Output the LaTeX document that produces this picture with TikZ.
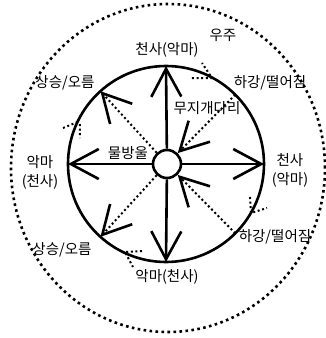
\documentclass[tikz,border=0pt]{standalone}
\usepackage{fontspec}
\setmainfont{Noto Sans CJK KR}
\usetikzlibrary{arrows.meta}
\begin{document}
\begin{tikzpicture}[x=1pt, y=1pt, line width=2.6pt,
    bigtip/.style={-{Straight Barb[length=28pt, width=30pt, line width'=2.6pt]}},
    dots/.style={line width=2pt, dash pattern=on 2pt off 2.6pt},
    lbl/.style={font=\fontsize{14.5}{19}\selectfont, inner sep=0pt, align=center}]
    \useasboundingbox (-166,-174) rectangle (160,164);
    \draw[line width=2.6pt, dash pattern=on 2.6pt off 3.4pt] (2,-4) ellipse [x radius=157, y radius=164];
    \draw (0,0) circle (98);
    \node[circle, draw, fill=white, minimum size=28pt, inner sep=0pt] (drop) at (1,0) {};
    \foreach \a in {0,45,90,132,180,228,270,315} \coordinate (c\a) at (\a:98);
    \foreach \a in {0,90,180,270} \draw[bigtip] (drop) -- (c\a);
    \draw[bigtip, dots] (drop) -- (c132);
    \draw[bigtip, dots] (drop) -- (c228);
    \draw[bigtip, dots] (c45) -- (drop);
    \draw[bigtip, dots] (c315) -- (drop);
    \draw[dots] (-103,36) -- (-86,43) (-86,40) -- (-86,26);
    \draw[dots] (26,86) -- (46,86) -- (36,101);
    \draw[dots] (84,-33) -- (85,-49) -- (101,-44);
    \draw[dots] (-24,-87) -- (-41,-88) -- (-33,-103);
    \node[lbl] (space) at (57,129) {우주};
    \node[lbl] (angelT) at (1,114) {천사(악마)};
    \node[lbl] (fallT) at (104,81) {하강/떨어짐};
    \node[lbl] (riseT) at (-101,81) {상승/오름};
    \node[lbl] (bridge) at (41,56) {무지개다리};
    \node[lbl] (dropL) at (-38,11) {물방울};
    \node[lbl] (devilL) at (-126,-8) {악마\\(천사)};
    \node[lbl] (angelR) at (124,-6) {천사\\(악마)};
    \node[lbl] (riseB) at (-104,-86) {상승/오름};
    \node[lbl] (fallB) at (109,-73) {하강/떨어짐};
    \node[lbl] (devilB) at (1,-113) {악마(천사)};
\end{tikzpicture}
\end{document}
